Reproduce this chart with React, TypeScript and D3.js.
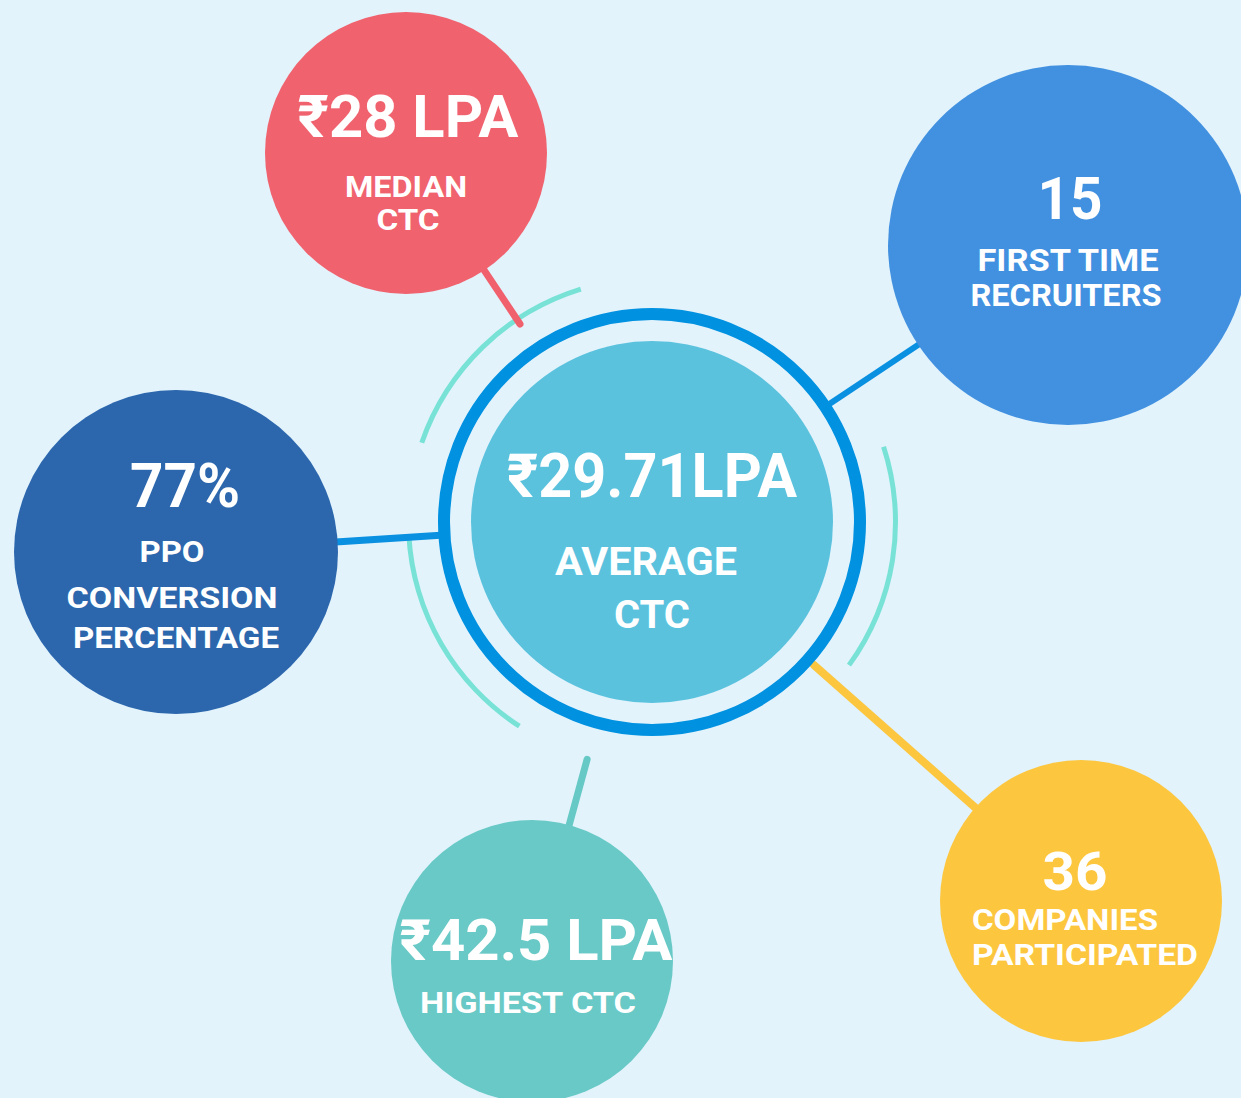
import React from "react";
import * as d3 from "d3";

// stat values and their captions
const statValues = ["₹28 LPA", "15", "77%", "₹42.5 LPA", "36"];
const statLabels = [
  ["MEDIAN", "CTC"],
  ["FIRST TIME", "RECRUITERS"],
  ["PPO", "CONVERSION", "PERCENTAGE"],
  ["HIGHEST CTC"],
  ["COMPANIES", "PARTICIPATED"],
];
const centerValue = "₹29.71LPA";
const centerLabels = ["AVERAGE", "CTC"];

// layout (kept apart from the values)
const W = 1241;
const H = 1098;
const hub = { x: 652, y: 522, ring: 208, inner: 181 };
const bubblePos = [
  { x: 406, y: 153, r: 141 },
  { x: 1068, y: 245, r: 180 },
  { x: 176, y: 552, r: 162 },
  { x: 532, y: 961, r: 141 },
  { x: 1081, y: 901, r: 141 },
];
const bubbleColors = ["#f0626e", "#4291e0", "#2c67ad", "#68c9c6", "#fdc63f"];
const linkColors = ["#f0616d", "#0a90e0", "#0a90e0", "#67c9c5", "#fcc63f"];
const linkStart = [238, 214, 212, 246, 216];
const linkWidth = [7, 6, 7, 7, 8];
const valueFont = [59, 59, 62, 57, 54];
const valueDy = [-16, -26, -45, -1, -11];
const valueDx = [2, 2, 9, 4, -6];
const valueLen = [221, 65, 110, 273, 65];
const labelFont = [29, 31, 30, 29, 30];
const labelDy = [[44, 77], [26, 61], [10, 56, 96], [52], [29, 64]];
const labelDx = [[0, 2], [0, -2], [-4, -4, 0], [-4], [null, null]];
const labelLen = [[122, 63], [181, 191], [65, 211, 206], [216], [186, 226]];
const centerLen = [182, 76];

// decorative teal arcs around the hub, degrees clockwise from top
const arcSpans = [
  [-71, -17],
  [72, 126],
  [213, 267],
];

export default function App() {
  const arc = d3.arc<any>().innerRadius(241).outerRadius(246).startAngle((d) => (d[0] * Math.PI) / 180).endAngle((d) => (d[1] * Math.PI) / 180);

  const links = bubblePos.map((b, i) => {
    const dx = b.x - hub.x;
    const dy = b.y - hub.y;
    const dist = Math.hypot(dx, dy);
    const along = d3.scaleLinear().domain([0, dist]).range([0, 1]);
    const r0 = along(linkStart[i]);
    const r1 = along(dist - b.r + 2);
    return {
      x1: hub.x + dx * r0,
      y1: hub.y + dy * r0,
      x2: hub.x + dx * r1,
      y2: hub.y + dy * r1,
    };
  });

  const font = "Roboto, 'Noto Sans', sans-serif";
  const adj = "spacingAndGlyphs";

  return (
    <svg width={W} height={H} style={{ position: "absolute", left: 0, top: 0 }} fontFamily={font} fontWeight={700}>
      <rect width={W} height={H} fill="#e2f3fc" />
      <g transform={`translate(${hub.x},${hub.y})`}>
        {arcSpans.map((s, i) => (
          <path key={i} d={arc(s) as string} fill="#79e2d6" />
        ))}
      </g>
      {links.map((l, i) => (
        <line key={i} x1={l.x1} y1={l.y1} x2={l.x2} y2={l.y2} stroke={linkColors[i]} strokeWidth={linkWidth[i]} strokeLinecap="round" />
      ))}
      <circle cx={hub.x} cy={hub.y} r={hub.ring} fill="none" stroke="#0091e0" strokeWidth={12} />
      <circle cx={hub.x} cy={hub.y} r={hub.inner} fill="#5bc2de" />
      <text x={hub.x} y={497} textAnchor="middle" fill="#fff" fontSize={61} textLength={290} lengthAdjust={adj}>{centerValue}</text>
      {centerLabels.map((t, j) => (
        <text key={j} x={hub.x - (j === 0 ? 6 : 0)} y={575 + j * 53} textAnchor="middle" fill="#fff" fontSize={38} textLength={centerLen[j]} lengthAdjust={adj}>{t}</text>
      ))}
      {bubblePos.map((b, i) => (
        <g key={i}>
          <circle cx={b.x} cy={b.y} r={b.r} fill={bubbleColors[i]} />
          <text x={b.x + valueDx[i]} y={b.y + valueDy[i]} textAnchor="middle" fill="#fff" fontSize={valueFont[i]} textLength={valueLen[i]} lengthAdjust={adj}>
            {statValues[i]}
          </text>
          {statLabels[i].map((t, j) => {
            const dx = labelDx[i][j];
            return (
              <text
                key={j}
                x={dx === null ? 972 : b.x + dx}
                y={b.y + labelDy[i][j]}
                textAnchor={dx === null ? "start" : "middle"}
                fill="#fff"
                fontSize={labelFont[i]}
                textLength={labelLen[i][j]}
                lengthAdjust={adj}
              >
                {t}
              </text>
            );
          })}
        </g>
      ))}
    </svg>
  );
}
